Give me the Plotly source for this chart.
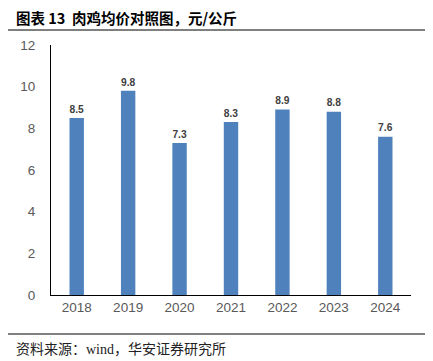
import plotly.graph_objects as go

years = ["2018", "2019", "2020", "2021", "2022", "2023", "2024"]
prices = [8.5, 9.8, 7.3, 8.3, 8.9, 8.8, 7.6]
labels = ["8.5", "9.8", "7.3", "8.3", "8.9", "8.8", "7.6"]

OFF = 8  # page body margin
W, H = 433 - OFF, 361 - OFF
L, R, T, B = 51 - OFF, 22, 45 - OFF, 361 - 295
pw, ph = W - L - R, H - T - B

def px(x):
    return (x - OFF - L) / pw

def py(y):
    return (H - B - (y - OFF)) / ph

fig = go.Figure(go.Bar(
    x=years, y=prices, width=0.28,
    marker=dict(color="#4F81BD", line=dict(width=0)),
    text=labels, textposition="outside",
    textfont=dict(family="Liberation Sans, Arial", size=14, color="#404040", weight="bold"),
    cliponaxis=False,
))

fig.update_layout(
    width=W, height=H,
    margin=dict(l=L, r=R, t=T, b=B),
    paper_bgcolor="white", plot_bgcolor="white",
    showlegend=False,
    font=dict(family="Liberation Sans, Arial", size=13, color="#595959"),
    xaxis=dict(showline=True, linecolor="#000000", linewidth=1, ticks="",
               tickfont=dict(size=13.5, color="#595959"), showgrid=False),
    yaxis=dict(range=[0, 12], dtick=2, showline=True, linecolor="#000000", linewidth=1,
               ticks="", showgrid=False, zeroline=False,
               tickfont=dict(size=13.5, color="#595959"), ticklabelstandoff=12),
    shapes=[
        dict(type="line", xref="paper", yref="paper", x0=px(5), x1=px(428), y0=py(30), y1=py(30),
             line=dict(color="#000000", width=1)),
        dict(type="line", xref="paper", yref="paper", x0=px(5), x1=px(428), y0=py(334), y1=py(334),
             line=dict(color="#000000", width=1)),
    ],
    annotations=[
        dict(text="<b>图表 13  肉鸡均价对照图，元/公斤</b>", xref="paper", yref="paper",
             x=px(14), y=py(18), xanchor="left", yanchor="middle", showarrow=False,
             font=dict(family="Noto Sans CJK SC", size=14.5, color="#000000")),
        dict(text="资料来源：<span style='font-family:Liberation Serif'>wind</span>，华安证券研究所",
             xref="paper", yref="paper",
             x=px(14), y=py(348), xanchor="left", yanchor="middle", showarrow=False,
             font=dict(family="Noto Sans CJK SC, Liberation Serif", size=14, color="#222222")),
    ],
)

fig.write_html("out.html")
